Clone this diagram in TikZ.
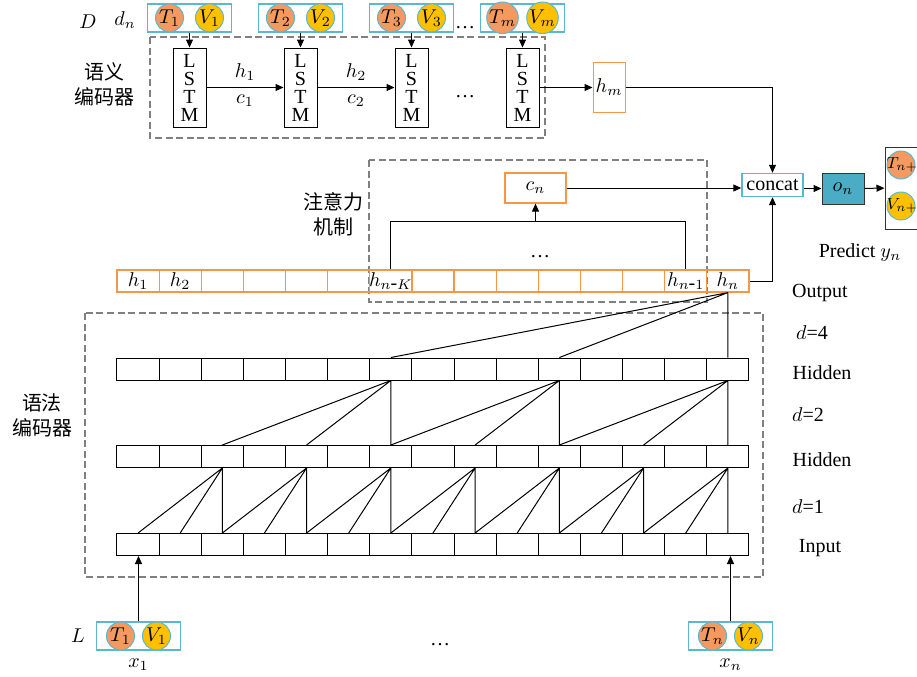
\documentclass[tikz,border=0pt]{standalone}
\usepackage{fontspec}
\setmainfont{Liberation Serif}
\newfontfamily\cjk{Noto Sans CJK SC}
\usetikzlibrary{arrows.meta,positioning}
\definecolor{boxblue}{RGB}{92,184,206}
\definecolor{tcolor}{RGB}{244,153,95}
\definecolor{vcolor}{RGB}{255,192,0}
\definecolor{hborder}{RGB}{247,150,70}
\definecolor{ofill}{RGB}{75,172,198}

\begin{document}
\begin{tikzpicture}[
x=0.5pt, y=-0.5pt,
line width=0.5pt,
lstm/.style={rectangle, draw, minimum width=16.5pt, minimum height=39.5pt, inner sep=0pt, align=center, font=\fontsize{10}{9}\selectfont},
inbox/.style={rectangle, draw=boxblue, line width=0.7pt, minimum width=42pt, minimum height=14pt},
tnode/.style={circle, draw=boxblue, fill=tcolor, minimum size=14pt, inner sep=0pt},
vnode/.style={circle, draw=boxblue, fill=vcolor, minimum size=14pt, inner sep=0pt},
cell/.style={rectangle, draw, minimum width=21.07pt, minimum height=11pt, inner sep=0pt},
hcell/.style={cell, draw=hborder, line width=0.6pt},
hbox/.style={rectangle, draw=hborder, line width=0.6pt, inner sep=0pt},
groupbox/.style={draw=gray, dash pattern=on 3.5pt off 1.8pt, line width=0.65pt},
cjklabel/.style={align=center, font=\cjk\fontsize{10}{12.5}\selectfont},
arrow/.style={-{Triangle[length=4pt,width=3.5pt]}}
]
\useasboundingbox (0,0) rectangle (917,676);
\clip (0,0) rectangle (917,676);

% semantic encoder
\draw[groupbox] (150,37) rectangle (545,138);
\node[cjklabel] (semlbl) at (105,84.5) {语义\\编码器};
\node (dlbl) at (88,22) {$D$};
\node (dnlbl) at (125,20) {$d_n$};

\node[lstm] (lstm1) at (189.5,87.5) {L\\S\\T\\M};
\node[lstm, right=38.5pt of lstm1] (lstm2) {L\\S\\T\\M};
\node[lstm, right=38.5pt of lstm2] (lstm3) {L\\S\\T\\M};
\node[lstm, right=38.5pt of lstm3] (lstm4) {L\\S\\T\\M};

\foreach \i/\s in {1/1,2/2,3/3,4/m} {
  \node[inbox, above=7.5pt of lstm\i] (d\i) {};
  \node[tnode] (t\i) at ([xshift=-10pt]d\i.center) {$T_\s$};
  \node[vnode] (v\i) at ([xshift=10pt]d\i.center) {$V_\s$};
  \draw[arrow] (d\i) -- (lstm\i);
}
\node (topdots) at (465,28) {\dots};
\node (lstmdots) at (465,97) {\dots};

\draw[arrow] (lstm1) -- node[above] {$h_1$} node[below] {$c_1$} (lstm2);
\draw[arrow] (lstm2) -- node[above] {$h_2$} node[below] {$c_2$} (lstm3);

\node[hbox, minimum width=16pt, minimum height=25pt, right=26.5pt of lstm4] (hm) {$h_m$};
\draw[arrow] (lstm4) -- (hm);

% fusion and prediction
\node[rectangle, draw=boxblue, line width=0.7pt, minimum width=30.5pt, minimum height=11.5pt, inner sep=0pt] (concat) at (772.5,185) {concat};
\node[rectangle, draw=black!80, fill=ofill, minimum width=21pt, minimum height=15.5pt, inner sep=0pt] (on) at (843,188.5) {$o_n$};
\node[rectangle, draw=black!80, minimum width=17pt, minimum height=41pt] (yout) at (902,188) {};
\node[tnode] (tnext) at (901,165) {};
\node[vnode] (vnext) at (901,206) {};
\node[anchor=west, inner sep=0pt, font=\fontsize{8}{9}\selectfont] (tnextlbl) at (886,165) {$T_{n+1}$};
\node[anchor=west, inner sep=0pt, font=\fontsize{8}{9}\selectfont] (vnextlbl) at (886,206) {$V_{n+1}$};
\node (predict) at (860,252) {Predict $y_n$};

\draw[arrow] (hm.east) -| (concat.north);
\draw[arrow] (on -| concat.east) -- (on.west);
\draw[arrow] (on) -- (yout);

% attention
\draw[groupbox] (369,160) rectangle (707,302);
\node[cjklabel] (attnlbl) at (333,214.5) {注意力\\机制};
\node[hbox, minimum width=30.5pt, minimum height=15pt] (cn) at (535.5,188) {$c_n$};
\draw[arrow] (cn) -- (cn -| concat.west);

\foreach \i/\h in {1/h_1,2/h_2,3/,4/,5/,6/,7/h_{n\mbox{-}K},8/,9/,10/,11/,12/,13/,14/h_{n\mbox{-}1},15/h_n}
  \node[hcell] (o\i) at ({117+(\i-0.5)*42.13},281) {\ensuremath{\h}};

\draw (o7.north) |- ([yshift=-9pt]cn.south) -| (o14.north);
\draw[arrow] ([yshift=-9pt]cn.south) -- (cn.south);
\node (attndots) at (540,257) {\dots};
\draw[arrow] (o15.east) -| (concat.south);

% syntax encoder
\draw[groupbox] (85,313) rectangle (763,577);
\node[cjklabel] (synlbl) at (42,415.5) {语法\\编码器};

\foreach \i in {1,...,15} {
  \node[cell] (hidtwo\i) at ({117+(\i-0.5)*42.13},369) {};
  \node[cell] (hidone\i) at ({117+(\i-0.5)*42.13},456.5) {};
  \node[cell] (in\i) at ({117+(\i-0.5)*42.13},544.5) {};
}

\foreach \k in {3,5,...,15} {
  \pgfmathtruncatemacro\ka{\k-2}
  \pgfmathtruncatemacro\kb{\k-1}
  \draw (hidone\k.south) -- (in\ka.north) (hidone\k.south) -- (in\kb.north) (hidone\k.south) -- (in\k.north);
}
\foreach \k in {7,11,15} {
  \pgfmathtruncatemacro\ka{\k-4}
  \pgfmathtruncatemacro\kb{\k-2}
  \draw (hidtwo\k.south) -- (hidone\ka.north) (hidtwo\k.south) -- (hidone\kb.north) (hidtwo\k.south) -- (hidone\k.north);
}
\draw (o15.south) -- (hidtwo7.north) (o15.south) -- (hidtwo11.north) (o15.south) -- (hidtwo15.north);

\node (outlbl) at (820,293) {Output};
\node (dfour) at (812,333) {$d$=4};
\node (hidlbla) at (822,373) {Hidden};
\node (dtwo) at (808,415) {$d$=2};
\node (hidlblb) at (822,460) {Hidden};
\node (done) at (808,507) {$d$=1};
\node (inlbl) at (820,548) {Input};

% inputs
\node (llbl) at (78,636) {$L$};
\node[inbox] (xone) at (138.5,636) {};
\node[tnode] (xonet) at ([xshift=-9pt]xone.center) {$T_1$};
\node[vnode] (xonev) at ([xshift=9pt]xone.center) {$V_1$};
\node (xonelbl) at (138.5,665) {$x_1$};

\node[inbox] (xn) at (730.5,636) {};
\node[tnode] (xnt) at ([xshift=-9pt]xn.center) {$T_n$};
\node[vnode] (xnv) at ([xshift=9pt]xn.center) {$V_n$};
\node (xnlbl) at (730.5,665) {$x_n$};
\node (botdots) at (440,645) {\dots};

\draw[arrow] (xone.north) -- (xone.north |- in1.south);
\draw[arrow] (xn.north) -- (xn.north |- in15.south);

\end{tikzpicture}
\end{document}
